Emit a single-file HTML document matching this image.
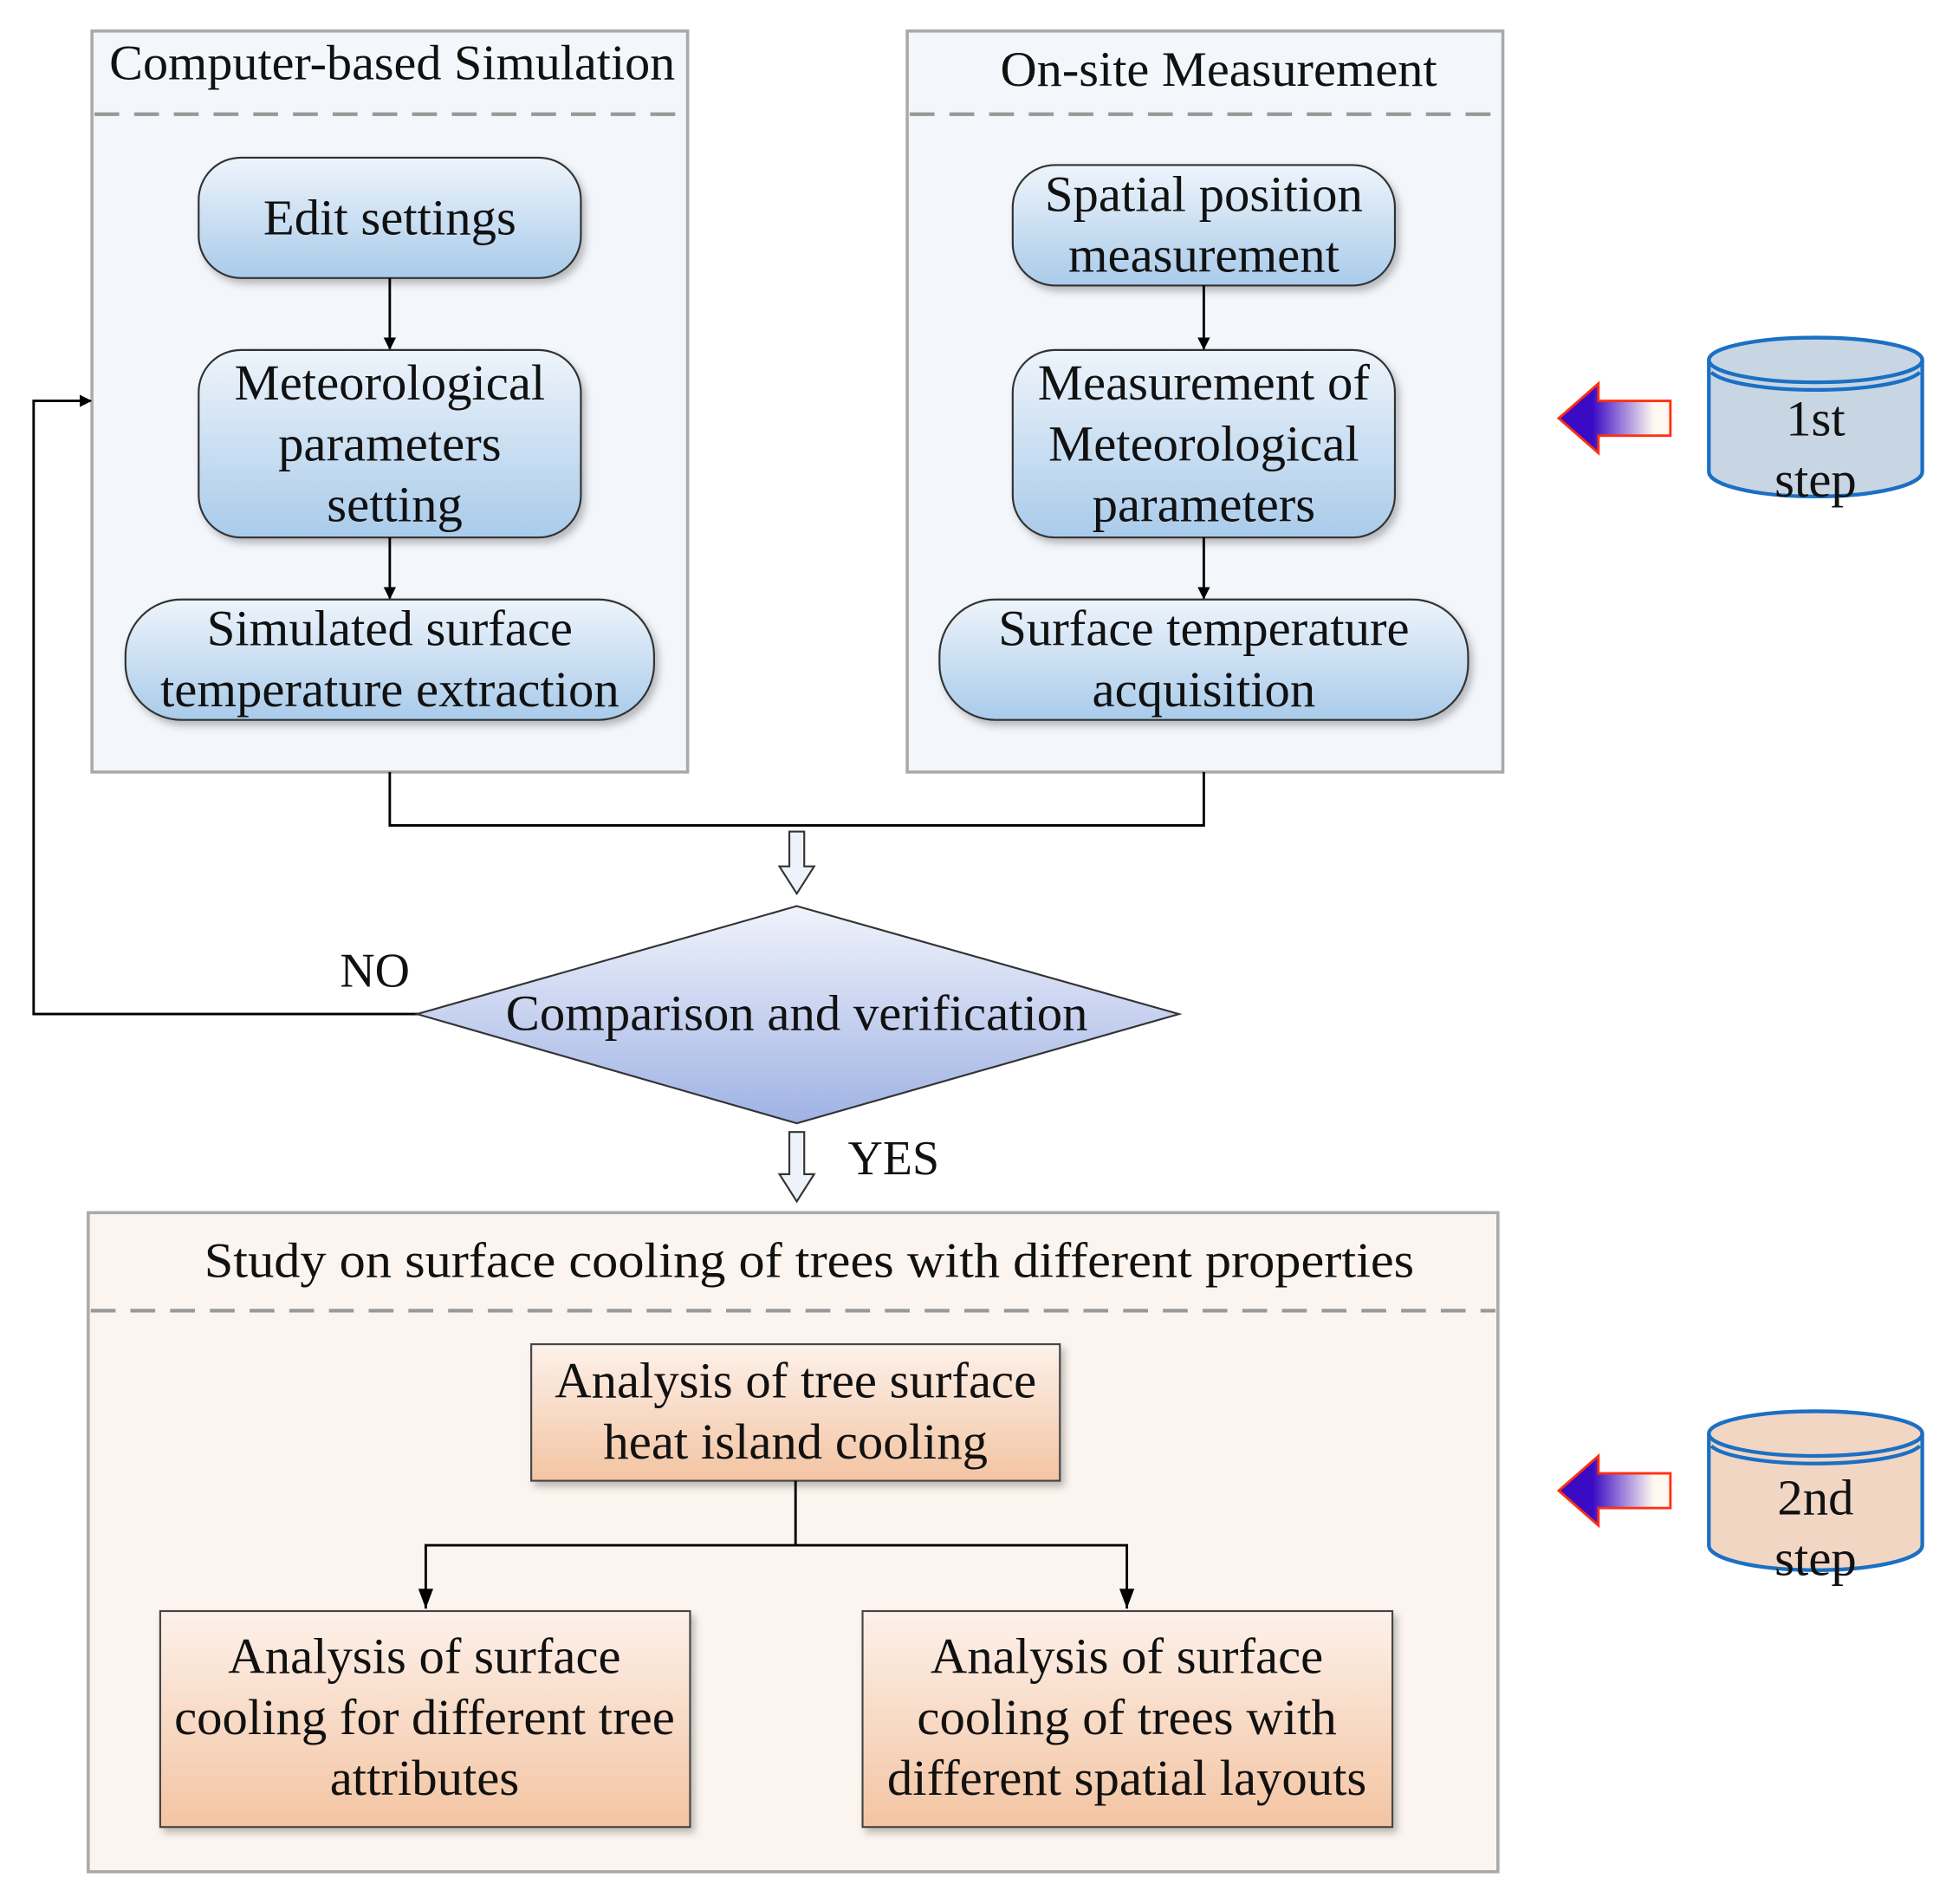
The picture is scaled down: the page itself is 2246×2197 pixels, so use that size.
<!DOCTYPE html>
<html><head><meta charset="utf-8"><style>
html,body{margin:0;padding:0;background:#fff}
svg{display:block}
text{font-family:"Liberation Serif",serif;fill:#111;text-anchor:middle}
</style></head><body>
<svg width="2246" height="2197" viewBox="0 0 1568 1534" xmlns="http://www.w3.org/2000/svg">
<defs>
<linearGradient id="bl" x1="0" y1="0" x2="0" y2="1"><stop offset="0" stop-color="#eef4fb"/><stop offset="1" stop-color="#a9cbea"/></linearGradient>
<linearGradient id="dm" x1="0" y1="0" x2="0" y2="1"><stop offset="0" stop-color="#f0f3fb"/><stop offset="1" stop-color="#9fb2e4"/></linearGradient>
<linearGradient id="or" x1="0" y1="0" x2="0" y2="1"><stop offset="0" stop-color="#fdf1ea"/><stop offset="1" stop-color="#f3c4a2"/></linearGradient>
<linearGradient id="ar" x1="0" y1="0" x2="1" y2="0"><stop offset="0.3" stop-color="#3a0ac4"/><stop offset="0.85" stop-color="#fff8f0"/></linearGradient>
<marker id="m" markerWidth="10" markerHeight="10" refX="9" refY="5" orient="auto" markerUnits="userSpaceOnUse"><path d="M0,0 L10,5 L0,10z" fill="#000"/></marker>
<filter id="sh" x="-10%" y="-10%" width="130%" height="140%"><feDropShadow dx="3" dy="4" stdDeviation="3" flood-color="#000" flood-opacity="0.25"/></filter>
</defs>

<rect x="74" y="25" width="480" height="597" fill="#f3f6fb" stroke="#aaa" stroke-width="2.5"/>
<line x1="76" y1="92" x2="552" y2="92" stroke="#999" stroke-width="3" stroke-dasharray="20,12"/>
<text x="316" y="64" font-size="40" textLength="456" lengthAdjust="spacingAndGlyphs">Computer-based Simulation</text>
<rect x="731" y="25" width="480" height="597" fill="#f3f6fb" stroke="#aaa" stroke-width="2.5"/>
<line x1="733" y1="92" x2="1209" y2="92" stroke="#999" stroke-width="3" stroke-dasharray="20,12"/>
<text x="982" y="69" font-size="40" textLength="352" lengthAdjust="spacingAndGlyphs">On-site Measurement</text>

<g filter="url(#sh)" stroke="#333" stroke-width="1.5" fill="url(#bl)">
<rect x="160" y="127" width="308" height="97" rx="34"/>
<rect x="160" y="282" width="308" height="151" rx="34"/>
<rect x="101" y="483" width="426" height="97" rx="45"/>
<rect x="816" y="133" width="308" height="97" rx="34"/>
<rect x="816" y="282" width="308" height="151" rx="34"/>
<rect x="757" y="483" width="426" height="97" rx="45"/>
</g>
<g font-size="41">
<text x="314" y="189">Edit settings</text>
<text x="314" y="322">Meteorological</text><text x="314" y="371">parameters</text><text x="318" y="420">setting</text>
<text x="314" y="520">Simulated surface</text><text x="314" y="569">temperature extraction</text>
<text x="970" y="170">Spatial position</text><text x="970" y="219">measurement</text>
<text x="970" y="322">Measurement of</text><text x="970" y="371">Meteorological</text><text x="970" y="420">parameters</text>
<text x="970" y="520">Surface temperature</text><text x="970" y="569">acquisition</text>
</g>
<g stroke="#000" stroke-width="2" fill="none">
<line x1="314" y1="224" x2="314" y2="281" marker-end="url(#m)"/>
<line x1="314" y1="433" x2="314" y2="482" marker-end="url(#m)"/>
<line x1="970" y1="230" x2="970" y2="281" marker-end="url(#m)"/>
<line x1="970" y1="433" x2="970" y2="482" marker-end="url(#m)"/>
<polyline points="314,622 314,665 970,665 970,622"/>
<polyline points="338,817 27,817 27,323 73,323" marker-end="url(#m)"/>
</g>
<path d="M636,670 h12 v28 h8 l-14,22 l-14,-22 h8z" fill="#eef3fb" stroke="#333" stroke-width="1.5"/>
<path d="M636,912 h12 v34 h8 l-14,22 l-14,-22 h8z" fill="#eef3fb" stroke="#333" stroke-width="1.5"/>

<polygon points="642,730 950,817 642,905 336,817" fill="url(#dm)" stroke="#333" stroke-width="1.5"/>
<text x="642" y="830" font-size="41">Comparison and verification</text>
<text x="302" y="795" font-size="39">NO</text>
<text x="720" y="946" font-size="39">YES</text>

<rect x="71" y="977" width="1136" height="531" fill="#fcf5ef" stroke="#aaa" stroke-width="2.5"/>
<line x1="73" y1="1056" x2="1205" y2="1056" stroke="#999" stroke-width="3" stroke-dasharray="20,12"/>
<text x="652" y="1029" font-size="40" textLength="975" lengthAdjust="spacingAndGlyphs">Study on surface cooling of trees with different properties</text>
<g filter="url(#sh)" stroke="#444" stroke-width="1.5" fill="url(#or)">
<rect x="428" y="1083" width="426" height="110"/>
<rect x="129" y="1298" width="427" height="174"/>
<rect x="695" y="1298" width="427" height="174"/>
</g>
<g font-size="41">
<text x="641" y="1126">Analysis of tree surface</text><text x="641" y="1175">heat island cooling</text>
<text x="342" y="1348">Analysis of surface</text><text x="342" y="1397">cooling for different tree</text><text x="342" y="1446">attributes</text>
<text x="908" y="1348">Analysis of surface</text><text x="908" y="1397">cooling of trees with</text><text x="908" y="1446">different spatial layouts</text>
</g>
<g stroke="#000" stroke-width="2" fill="none">
<line x1="641" y1="1193" x2="641" y2="1245"/>
<polyline points="343,1296 343,1245 908,1245 908,1296"/>
</g>
<path d="M337,1280 l6,16 l6,-16z M902,1280 l6,16 l6,-16z" fill="#000"/>

<path d="M1256,337 l32,-28 v14 h58 v28 h-58 v14z" fill="url(#ar)" stroke="#ff3010" stroke-width="2"/>
<path d="M1256,1201 l32,-28 v14 h58 v28 h-58 v14z" fill="url(#ar)" stroke="#ff3010" stroke-width="2"/>

<g stroke="#1b6fc4" stroke-width="3">
<path d="M1377,290 v90 a86,20 0 0 0 172,0 v-90" fill="#c8d5e3"/>
<ellipse cx="1463" cy="290" rx="86" ry="18" fill="#c8d5e3"/>
<path d="M1379,300 a86,18 0 0 0 168,0" fill="none"/>
<path d="M1377,1155 v90 a86,20 0 0 0 172,0 v-90" fill="#f1d6c4"/>
<ellipse cx="1463" cy="1155" rx="86" ry="18" fill="#f1d6c4"/>
<path d="M1379,1165 a86,18 0 0 0 168,0" fill="none"/>
</g>
<g font-size="41">
<text x="1463" y="351">1st</text><text x="1463" y="400">step</text>
<text x="1463" y="1220">2nd</text><text x="1463" y="1269">step</text>
</g>
</svg>
</body></html>
